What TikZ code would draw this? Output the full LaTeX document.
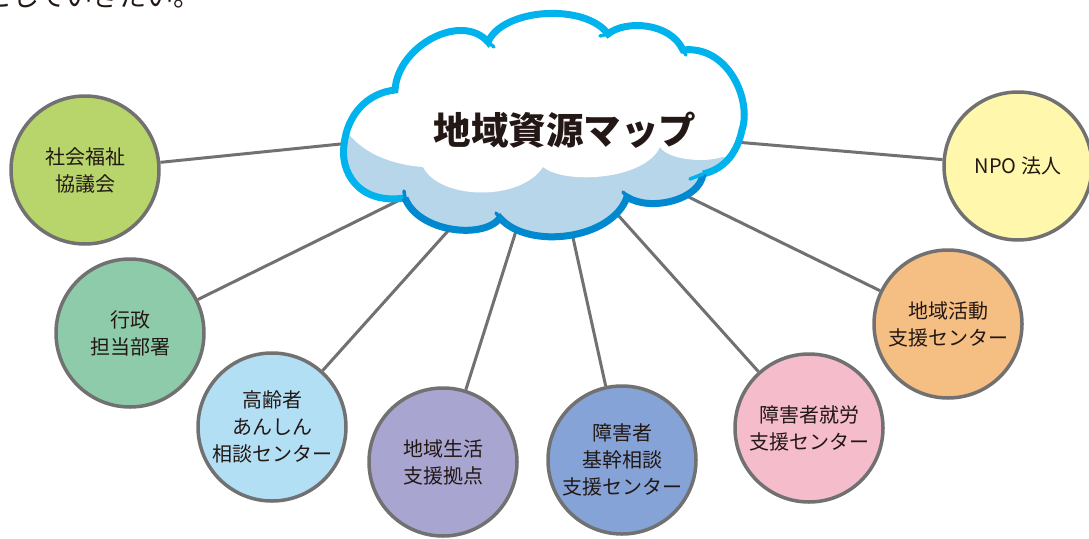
\documentclass[tikz,border=0pt]{standalone}
\usepackage{fontspec}
\setmainfont{Noto Sans CJK JP}
\usepackage{tikz}
\usetikzlibrary{calc}

\definecolor{rimgray}{HTML}{717171}
\definecolor{inkblack}{HTML}{231815}
\definecolor{cloudcyan}{HTML}{00B3EC}
\definecolor{clouddeep}{HTML}{0089CF}
\definecolor{cloudpale}{HTML}{B7D6EA}
\definecolor{colShakyo}{HTML}{B8D56B}
\definecolor{colGyosei}{HTML}{8DCBAA}
\definecolor{colKorei}{HTML}{B3DFF5}
\definecolor{colKyoten}{HTML}{A8A6D0}
\definecolor{colKikan}{HTML}{85A3D6}
\definecolor{colShuro}{HTML}{F5BCCB}
\definecolor{colKatsudo}{HTML}{F5BE82}
\definecolor{colNpo}{HTML}{FFF8AC}

\tikzset{
	res/.style={circle, draw=rimgray, line width=3.5pt, minimum size=148pt, inner sep=0pt, align=center, text=inkblack, font=\fontsize{20}{27}\selectfont},
	link/.style={draw=rimgray, line width=3pt},
	tail/.style={line width=3.5pt, line cap=round},
}

\begin{document}
\begin{tikzpicture}[x=1pt, y=-1pt]
	\useasboundingbox (0,0) rectangle (1089,538);
	\def\cloudpath{(405,198) .. controls (357,205) and (340,170) .. (344,145) .. controls (347,115) and (367,93) .. (395,90) .. controls (398,45) and (462,12) .. (488,42) .. controls (503,8) and (585,3) .. (608,34) .. controls (625,20) and (670,22) .. (683,50) .. controls (728,45) and (752,100) .. (742,130) .. controls (736,158) and (720,170) .. (703,174) .. controls (700,200) and (650,212) .. (627,197) .. controls (612,240) and (528,250) .. (500,218) .. controls (483,240) and (418,232) .. (405,198) -- cycle}

	% text above, cut by the page
	\node[anchor=base west, inner sep=0pt, text=inkblack, font=\fontsize{27}{27}\selectfont] (lead) at (-15,6) {としていきたい。};

	\foreach \n/\x/\y/\col/\ex/\ey/\lbl in {
		shakyo/85/170/colShakyo/380/140/{社会福祉\\協議会},
		gyosei/130/333/colGyosei/430/185/{行政\\担当部署},
		korei/272/427/colKorei/465/212/{高齢者\\あんしん\\相談センター},
		kyoten/443/462/colKyoten/522/212/{地域生活\\支援拠点},
		kikan/622/460/colKikan/568/215/{障害者\\基幹相談\\支援センター},
		shuro/809/428/colShuro/600/195/{障害者就労\\支援センター},
		katsudo/948/324/colKatsudo/660/183/{地域活動\\支援センター},
		npo/1018/166/colNpo/700/139/{NPO 法人}} {
		\coordinate (\n-in) at (\ex,\ey);
		\node[res, fill=\col] (\n) at (\x,\y) {\lbl};
		\draw[link] (\n) -- (\n-in);
	}

	% cloud
	\fill[cloudpale] \cloudpath;
	\begin{scope}
		\clip \cloudpath;
		\fill[white] (330,0) -- (760,0) -- (760,157) -- (722,157) .. controls (705,163) and (668,160) .. (660,147) .. controls (645,180) and (565,185) .. (543,167) .. controls (520,202) and (440,200) .. (423,167) .. controls (395,165) and (365,155) .. (348,133) -- (330,133) -- cycle;
	\end{scope}
	\draw[cloudcyan, line width=7pt] (405,198) .. controls (357,205) and (340,170) .. (344,145) .. controls (347,115) and (367,93) .. (395,90) .. controls (398,45) and (462,12) .. (488,42) .. controls (503,8) and (585,3) .. (608,34) .. controls (625,20) and (670,22) .. (683,50) .. controls (728,45) and (752,100) .. (742,130) .. controls (736,158) and (720,170) .. (703,174);
	\draw[clouddeep, line width=7pt] (703,174) .. controls (700,200) and (650,212) .. (627,197) .. controls (612,240) and (528,250) .. (500,218) .. controls (483,240) and (418,232) .. (405,198);
	\draw[cloudcyan, tail] (488,42) -- (494,47);
	\draw[cloudcyan, tail] (608,34) -- (600,36);
	\draw[cloudcyan, tail] (683,50) -- (686,55);
	\draw[cloudcyan, tail] (703,174) -- (690,179);
	\draw[clouddeep, tail] (627,197) -- (623,192);
	\draw[clouddeep, tail] (500,218) -- (496,213);
	\draw[clouddeep, tail] (405,198) -- (404,191);
	\node[text=inkblack, font=\fontsize{37.5}{37.5}\selectfont\bfseries] (title) at (565,130) {地域資源マップ};
\end{tikzpicture}
\end{document}
